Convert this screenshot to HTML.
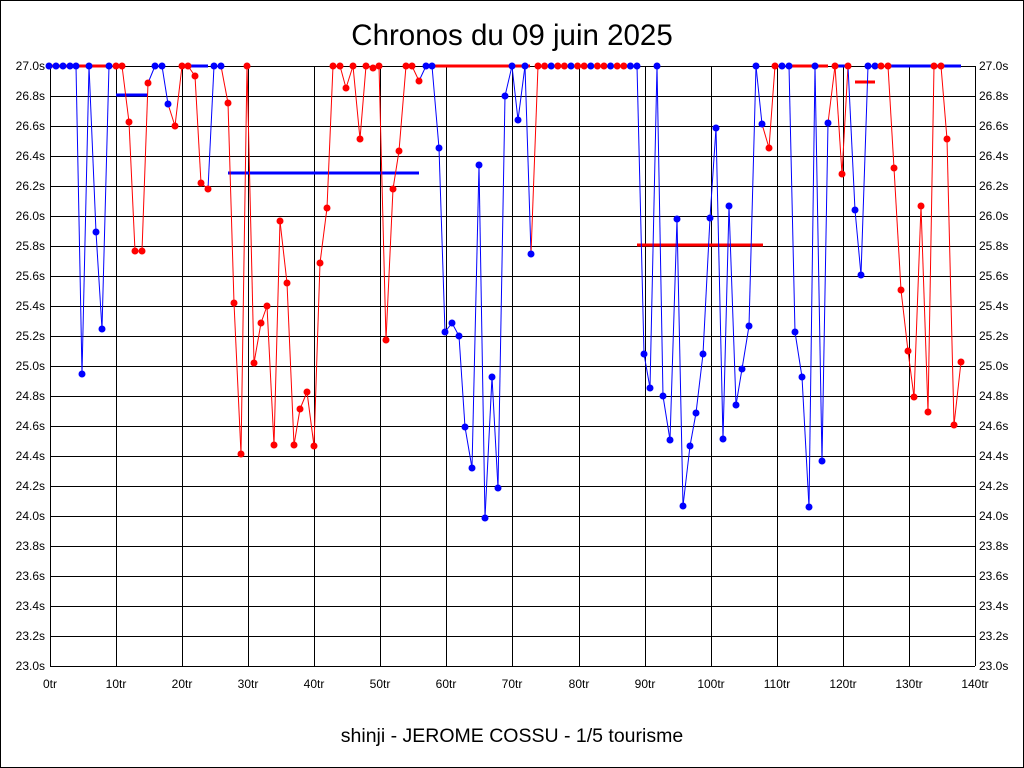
<!DOCTYPE html>
<html><head><meta charset="utf-8"><style>
html,body{margin:0;padding:0;background:#fff;}
svg{display:block;font-family:"Liberation Sans",Arial,sans-serif;}
</style></head><body>
<svg id="s" width="1024" height="768" viewBox="0 0 1024 768" xmlns="http://www.w3.org/2000/svg">
<rect x="0.5" y="0.5" width="1023" height="767" fill="#fff" stroke="#000"/>
<text x="512" y="45" font-size="29.5" text-anchor="middle">Chronos du 09 juin 2025</text>
<text x="512" y="742" font-size="19.5" text-anchor="middle">shinji - JEROME COSSU - 1/5 tourisme</text>
<g id="grid" stroke="#000" stroke-width="1"></g>
<g font-size="12" text-anchor="end">
<text x="45" y="70">27.0s</text><text x="45" y="100">26.8s</text><text x="45" y="130">26.6s</text><text x="45" y="160">26.4s</text><text x="45" y="190">26.2s</text><text x="45" y="220">26.0s</text><text x="45" y="250">25.8s</text><text x="45" y="280">25.6s</text><text x="45" y="310">25.4s</text><text x="45" y="340">25.2s</text><text x="45" y="370">25.0s</text><text x="45" y="400">24.8s</text><text x="45" y="430">24.6s</text><text x="45" y="460">24.4s</text><text x="45" y="490">24.2s</text><text x="45" y="520">24.0s</text><text x="45" y="550">23.8s</text><text x="45" y="580">23.6s</text><text x="45" y="610">23.4s</text><text x="45" y="640">23.2s</text><text x="45" y="670">23.0s</text>
</g>
<g font-size="12" text-anchor="start">
<text x="979" y="70">27.0s</text><text x="979" y="100">26.8s</text><text x="979" y="130">26.6s</text><text x="979" y="160">26.4s</text><text x="979" y="190">26.2s</text><text x="979" y="220">26.0s</text><text x="979" y="250">25.8s</text><text x="979" y="280">25.6s</text><text x="979" y="310">25.4s</text><text x="979" y="340">25.2s</text><text x="979" y="370">25.0s</text><text x="979" y="400">24.8s</text><text x="979" y="430">24.6s</text><text x="979" y="460">24.4s</text><text x="979" y="490">24.2s</text><text x="979" y="520">24.0s</text><text x="979" y="550">23.8s</text><text x="979" y="580">23.6s</text><text x="979" y="610">23.4s</text><text x="979" y="640">23.2s</text><text x="979" y="670">23.0s</text>
</g>
<g font-size="12" text-anchor="middle">
<text x="50" y="688">0tr</text><text x="116" y="688">10tr</text><text x="182" y="688">20tr</text><text x="248" y="688">30tr</text><text x="314" y="688">40tr</text><text x="380" y="688">50tr</text><text x="446" y="688">60tr</text><text x="512" y="688">70tr</text><text x="579" y="688">80tr</text><text x="645" y="688">90tr</text><text x="711" y="688">100tr</text><text x="777" y="688">110tr</text><text x="843" y="688">120tr</text><text x="909" y="688">130tr</text><text x="975" y="688">140tr</text>
</g>
<g stroke-width="3">
<line x1="50" y1="66" x2="110" y2="66" stroke="#f00"/>
<line x1="116" y1="95" x2="148" y2="95" stroke="#00f"/>
<line x1="188" y1="66" x2="208" y2="66" stroke="#00f"/>
<line x1="228" y1="173" x2="419" y2="173" stroke="#00f"/>
<line x1="432" y1="66" x2="530" y2="66" stroke="#f00"/>
<line x1="637" y1="245" x2="763" y2="245" stroke="#f00"/>
<line x1="789" y1="66" x2="828" y2="66" stroke="#f00"/>
<line x1="835" y1="66" x2="848" y2="66" stroke="#00f"/>
<line x1="855" y1="82" x2="875" y2="82" stroke="#f00"/>
<line x1="888" y1="66" x2="961" y2="66" stroke="#00f"/>
</g>
<g id="data"></g>
</svg>
<script>
var ns="http://www.w3.org/2000/svg",g=document.getElementById('grid'),d=document.getElementById('data');
function el(p,t,a){var e=document.createElementNS(ns,t);for(var k in a)e.setAttribute(k,a[k]);p.appendChild(e);return e;}
for(var i=0;i<=20;i++){var y=66+i*30;el(g,'line',{x1:50,x2:975,y1:y+.5,y2:y+.5});}
for(var i=0;i<=14;i++){var x=Math.round(50+i*66.07)+.5;el(g,'line',{x1:x,x2:x,y1:66,y2:666});}
var B='#00f',R='#f00';
var P=[[49,66,B],[56,66,B],[63,66,B],[70,66,B],[76,66,B],[82,374,B],[89,66,B],[96,232,B],[102,329,B],[109,66,B],
[116,66,R],[122,66,R],[129,122,R],[135,251,R],[142,251,R],[148,83,R],
[155,66,B],[162,66,B],[168,104,B],[175,126,R],[182,66,R],[188,66,R],[195,76,R],[201,183,R],[208,189,R],
[214,66,B],[221,66,B],
[228,103,R],[234,303,R],[241,454,R],[247,66,R],[254,363,R],[261,323,R],[267,306,R],[274,445,R],[280,221,R],[287,283,R],[294,445,R],[300,409,R],[307,392,R],[314,446,R],[320,263,R],[327,208,R],[333,66,R],[340,66,R],[346,88,R],[353,66,R],[360,139,R],[366,66,R],[373,68,R],[379,66,R],[386,340,R],[393,189,R],[399,151,R],[406,66,R],[412,66,R],[419,81,R],
[426,66,B],[432,66,B],[439,148,B],[445,332,B],[452,323,B],[459,336,B],[465,427,B],[472,468,B],[479,165,B],[485,518,B],[492,377,B],[498,488,B],[505,96,B],[512,66,B],[518,120,B],[525,66,B],[531,254,B]];
var x=538;for(var k=0;k<15;k++){P.push([x,66,k%3==2?B:R]);x+=6.6;}
P.push([637,66,B]);
P=P.concat([[644,354,B],[650,388,B],[657,66,B],[663,396,B],[670,440,B],[677,219,B],[683,506,B],[690,446,B],[696,413,B],[703,354,B],[710,218,B],[716,128,B],[723,439,B],[729,206,B],[736,405,B],[742,369,B],[749,326,B],[756,66,B],[762,124,B],
[769,148,R],[775,66,R],[782,66,B],[789,66,B],[795,332,B],[802,377,B],[809,507,B],[815,66,B],[822,461,B],[828,123,B],
[835,66,R],[842,174,R],[848,66,R],[855,210,B],[861,275,B],[868,66,B],[875,66,B],
[881,66,R],[888,66,R],[894,168,R],[901,290,R],[908,351,R],[914,397,R],[921,206,R],[928,412,R],[934,66,R],[941,66,R],[947,139,R],[954,425,R],[961,362,R]]);
for(var i=1;i<P.length;i++){el(d,'line',{x1:P[i-1][0],y1:P[i-1][1],x2:P[i][0],y2:P[i][1],stroke:P[i][2],'stroke-width':1});}
for(var i=0;i<P.length;i++){el(d,'circle',{cx:P[i][0],cy:P[i][1],r:3.5,fill:P[i][2]});}
</script>
</body></html>
